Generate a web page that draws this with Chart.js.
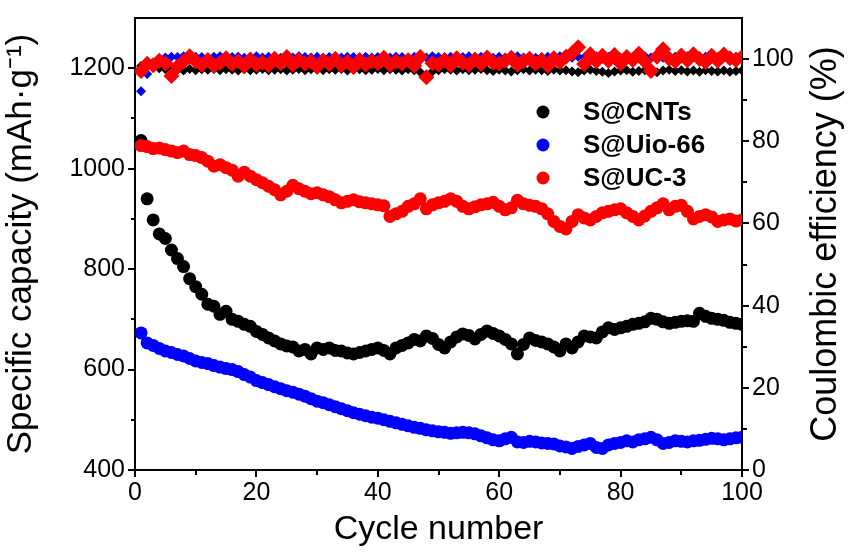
<!DOCTYPE html>
<html>
<head>
<meta charset="utf-8">
<script src="https://cdn.jsdelivr.net/npm/chart.js@4.4.1/dist/chart.umd.min.js"></script>
<style>
  html, body { margin: 0; padding: 0; background: #fff; }
</style>
</head>
<body>
<canvas id="chart" width="848" height="557"></canvas>
<script>
// cycle index 1..100
const cycles = Array.from({ length: 100 }, (_, i) => i + 1)

const seriesNames = ["S@CNTs", "S@Uio-66", "S@UC-3"]
const seriesColors = ["#000000", "#0000ff", "#ff0000"]

// specific capacity, mAh/g
const capCNTs = [
  1056, 940, 898, 870, 861, 838, 821, 805, 781, 765,
  750, 730, 726, 710, 716, 700, 696, 690, 686, 676,
  670, 663, 657, 651, 647, 645, 637, 640, 631, 643,
  640, 643, 638, 637, 633, 631, 634, 637, 640, 643,
  638, 631, 643, 648, 653, 660, 657, 667, 662, 650,
  643, 655, 665, 671, 668, 661, 670, 677, 672, 667,
  660, 651, 631, 650, 663, 658, 655, 651, 645, 637,
  651, 643, 655, 667, 665, 663, 675, 683, 680, 683,
  686, 690, 692, 695, 702, 700, 695, 692, 694, 696,
  697, 696, 712, 706, 702, 700, 698, 694, 692, 690
]
const capUio66 = [
  673, 653, 648, 642, 637, 634, 630, 627, 622, 617,
  614, 612, 608, 605, 602, 600, 596, 590, 585, 578,
  574, 570, 566, 562, 558, 555, 551, 547, 542, 537,
  534, 530, 526, 522, 518, 514, 511, 508, 505, 503,
  500, 497, 494, 491, 488, 485, 483, 480, 478, 476,
  475, 473, 474, 475, 474, 472, 468, 464, 460, 458,
  462, 465, 456, 455, 457, 456, 454, 453, 452, 448,
  446, 443, 447, 450, 453, 445, 443, 450, 453, 455,
  458, 456, 460, 462, 465, 460, 453, 455, 458, 457,
  456, 458, 459, 461, 463, 462, 460, 462, 464, 465
]
const capUC3 = [
  1046, 1044, 1040, 1041, 1038, 1035, 1032, 1035, 1028, 1026,
  1022, 1015, 1005, 1008, 1002, 997, 985, 993, 985, 978,
  972, 965, 958, 948, 955, 967, 960, 955, 950, 952,
  948, 944, 938, 932, 935, 938, 934, 932, 930, 928,
  926, 905, 910, 915, 925, 930, 940, 920, 928, 932,
  935, 940, 935, 925, 920, 924, 928, 930, 933, 925,
  918, 922, 937, 930, 927, 925, 920, 910, 895, 885,
  880, 895, 908, 902, 898, 905, 912, 915, 918, 920,
  912, 905, 898, 906, 915, 922, 930, 918, 925, 927,
  915, 900, 905, 908, 904, 895, 898, 900, 896, 898
]

// coulombic efficiency, %
const ceCNTs = [
  98.3, 99.5, 99.0, 97.8, 97.5, 98.2, 97.4, 97.2, 97.6, 97.3,
  97.5, 97.4, 97.6, 97.3, 97.5, 97.4, 97.2, 97.5, 97.3, 97.4,
  97.6, 97.3, 97.4, 97.5, 97.2, 97.4, 97.6, 97.3, 97.5, 97.4,
  97.3, 97.5, 97.4, 97.6, 97.2, 97.4, 97.5, 97.3, 97.4, 97.6,
  97.3, 97.5, 97.4, 97.2, 97.5, 97.3, 96.8, 96.2, 97.0, 97.3,
  97.5, 97.4, 97.2, 97.5, 97.3, 97.4, 97.6, 97.3, 97.1, 97.4,
  97.2, 97.0, 97.3, 97.5, 97.2, 97.4, 97.3, 97.1, 97.4, 97.2,
  97.3, 97.0, 96.8, 97.2, 97.4, 97.1, 96.9, 96.6, 97.0, 97.2,
  97.3, 96.9, 97.1, 97.3, 97.0, 96.8, 97.2, 97.4, 97.1, 97.3,
  97.0, 97.2, 96.9, 97.3, 97.1, 97.0, 97.2, 96.9, 97.1, 97.2
]
const ceUio66 = [
  92.2, 96.4, 98.0, 99.2, 100.4, 100.6, 100.5, 100.7, 100.4, 100.6,
  100.5, 100.3, 100.6, 100.7, 100.4, 100.5, 100.6, 100.3, 100.5, 100.7,
  100.4, 100.6, 100.5, 100.3, 100.6, 100.4, 100.7, 100.5, 100.4, 100.6,
  100.3, 100.5, 100.7, 100.4, 100.6, 100.5, 100.3, 100.6, 100.4, 100.5,
  100.7, 100.4, 100.6, 100.5, 100.3, 100.6, 100.5, 100.4, 100.7, 100.5,
  100.4, 100.6, 100.3, 100.5, 100.7, 100.4, 100.6, 100.5, 100.3, 100.6,
  100.4, 100.5, 100.7, 100.4, 100.6, 100.3, 100.5, 100.6, 100.4, 100.7,
  100.5, 100.3, 100.6, 100.4, 100.5, 100.7, 100.4, 100.6, 100.5, 100.3,
  100.6, 100.4, 100.5, 100.7, 100.4, 100.6, 100.3, 100.5, 100.6, 100.4,
  100.7, 100.5, 100.3, 100.6, 100.4, 100.5, 100.7, 100.4, 100.6, 100.5
]
const ceUC3 = [
  97.1, 98.8, 98.5, 99.6, 98.9, 95.9, 98.2, 99.4, 100.7, 99.5,
  98.6, 99.8, 98.4, 99.1, 100.2, 98.8, 99.5, 98.3, 99.9, 98.7,
  99.2, 98.5, 100.1, 99.0, 100.5, 98.6, 99.7, 98.9, 99.4, 98.2,
  99.6, 98.8, 100.0, 98.5, 99.3, 98.1, 99.8, 98.7, 99.5, 99.0,
  100.3, 98.6, 99.4, 98.9, 99.7, 98.4, 100.5, 95.6, 99.0, 98.7,
  99.8, 98.5, 100.2, 99.1, 98.6, 99.9, 98.8, 100.4, 99.2, 98.9,
  99.6, 100.3, 98.7, 99.5, 100.1, 98.9, 99.7, 98.4, 100.2, 99.3,
  100.6, 101.4, 102.9, 98.8, 101.2, 99.5, 100.8, 99.6, 101.0, 98.9,
  100.5, 99.8, 101.3, 99.4, 97.1, 100.6, 102.4, 100.1, 99.5, 100.9,
  99.7, 101.2, 100.0, 99.3, 100.8, 99.6, 101.1, 100.2, 99.8, 100.5
]

const xTicks = [0, 20, 40, 60, 80, 100]
const capTicks = [400, 600, 800, 1000, 1200]
const ceTicks = [0, 20, 40, 60, 80, 100]
const ceTitle = "Coulombic efficiency (%)"

const FONT = "'Liberation Sans', Arial, sans-serif"

function points(values) {
  return values.map((v, i) => ({ x: cycles[i], y: v }))
}

function capSet(i, values) {
  return {
    label: seriesNames[i],
    data: points(values),
    yAxisID: "y",
    backgroundColor: seriesColors[i],
    borderColor: seriesColors[i],
    pointRadius: 6.5,
    pointBorderWidth: 0,
    pointStyle: "circle",
    order: 3 - i
  }
}

function ceSet(i, values, r) {
  return {
    label: seriesNames[i] + " CE",
    data: points(values),
    yAxisID: "y2",
    backgroundColor: seriesColors[i],
    borderColor: seriesColors[i],
    pointRadius: r,
    pointBorderWidth: 0,
    pointStyle: "rectRot",
    order: 6 - i
  }
}

// legend inside the plot + right-hand title reading bottom-to-top
const extras = {
  id: "extras",
  afterDatasetsDraw(chart) {
    const { ctx, chartArea } = chart
    ctx.save()
    ctx.font = "bold 26px " + FONT
    ctx.textBaseline = "middle"
    seriesNames.forEach((name, i) => {
      const y = chartArea.top + 94 + i * 33
      ctx.fillStyle = seriesColors[i]
      ctx.beginPath()
      ctx.arc(chartArea.left + 408, y, 6.5, 0, Math.PI * 2)
      ctx.fill()
      ctx.fillStyle = "#000"
      ctx.fillText(name, chartArea.left + 448, y + 1)
    })
    ctx.restore()
  },
  afterDraw(chart) {
    const { ctx, chartArea } = chart
    ctx.save()
    ctx.translate(chartArea.right + 84, (chartArea.top + chartArea.bottom) / 2)
    ctx.rotate(-Math.PI / 2)
    ctx.font = "36px " + FONT
    ctx.fillStyle = "#000"
    ctx.textAlign = "center"
    ctx.textBaseline = "middle"
    ctx.fillText(ceTitle, 0, 0)
    ctx.restore()
  }
}

// minorDash: the tick line starts at the axis for bottom/right scales,
// at the outer end for the left scale, so the dash differs per side
function axisGrid(labels, minorDash) {
  return {
    display: true,
    drawOnChartArea: false,
    drawTicks: true,
    tickLength: 7,
    color: "#000",
    lineWidth: 2,
    tickBorderDash: (c) => c.tick && labels.includes(c.tick.value) ? [] : minorDash
  }
}
const axisBorder = { display: true, color: "#000", width: 2 }

new Chart(document.getElementById("chart"), {
  type: "scatter",
  data: {
    datasets: [
      capSet(0, capCNTs),
      capSet(1, capUio66),
      capSet(2, capUC3),
      ceSet(0, ceCNTs, 5),
      ceSet(1, ceUio66, 5),
      ceSet(2, ceUC3, 8)
    ]
  },
  options: {
    responsive: false,
    animation: false,
    devicePixelRatio: 1,
    layout: { padding: { top: 13, right: 0, left: 0, bottom: 0 } },
    plugins: {
      legend: { display: false },
      tooltip: { enabled: false }
    },
    scales: {
      x: {
        type: "linear",
        position: "bottom",
        min: 0,
        max: 100,
        grid: axisGrid(xTicks, [4, 20]),
        border: axisBorder,
        ticks: {
          stepSize: 10,
          autoSkip: false,
          maxRotation: 0,
          padding: 1,
          color: "#000",
          font: { family: FONT, size: 25 },
          callback: (v) => xTicks.includes(v) ? v : ""
        },
        title: {
          display: true,
          text: "Cycle number",
          color: "#000",
          font: { family: FONT, size: 34 },
          padding: { top: 0, bottom: 7 }
        },
        afterFit: (s) => { s.height = 87 }
      },
      xTop: {
        type: "linear",
        position: "top",
        min: 0,
        max: 100,
        grid: { display: false },
        border: axisBorder,
        ticks: { display: false },
        afterFit: (s) => { s.height = 0 }
      },
      y: {
        type: "linear",
        position: "left",
        min: 400,
        max: 1300,
        grid: axisGrid(capTicks, [0, 3, 10, 20]),
        border: axisBorder,
        afterBuildTicks: (s) => { s.ticks = s.ticks.filter(t => t.value <= 1200) },
        ticks: {
          stepSize: 100,
          autoSkip: false,
          padding: 3,
          color: "#000",
          font: { family: FONT, size: 25 },
          callback: (v) => capTicks.includes(v) ? v : ""
        },
        title: {
          display: true,
          text: "Specific capacity (mAh\u00b7g\u207b\u00b9)",
          color: "#000",
          font: { family: FONT, size: 35 },
          padding: { top: 0, bottom: 0 }
        },
        afterFit: (s) => { s.width = 135 }
      },
      y2: {
        type: "linear",
        position: "right",
        min: 0,
        max: 110,
        grid: axisGrid(ceTicks, [4, 20]),
        border: axisBorder,
        afterBuildTicks: (s) => { s.ticks = s.ticks.filter(t => t.value <= 100) },
        ticks: {
          stepSize: 10,
          autoSkip: false,
          padding: 3,
          color: "#000",
          font: { family: FONT, size: 25 },
          callback: (v) => ceTicks.includes(v) ? v : ""
        },
        title: { display: false },
        afterFit: (s) => { s.width = 106 }
      }
    }
  },
  plugins: [extras]
})
</script>
</body>
</html>
